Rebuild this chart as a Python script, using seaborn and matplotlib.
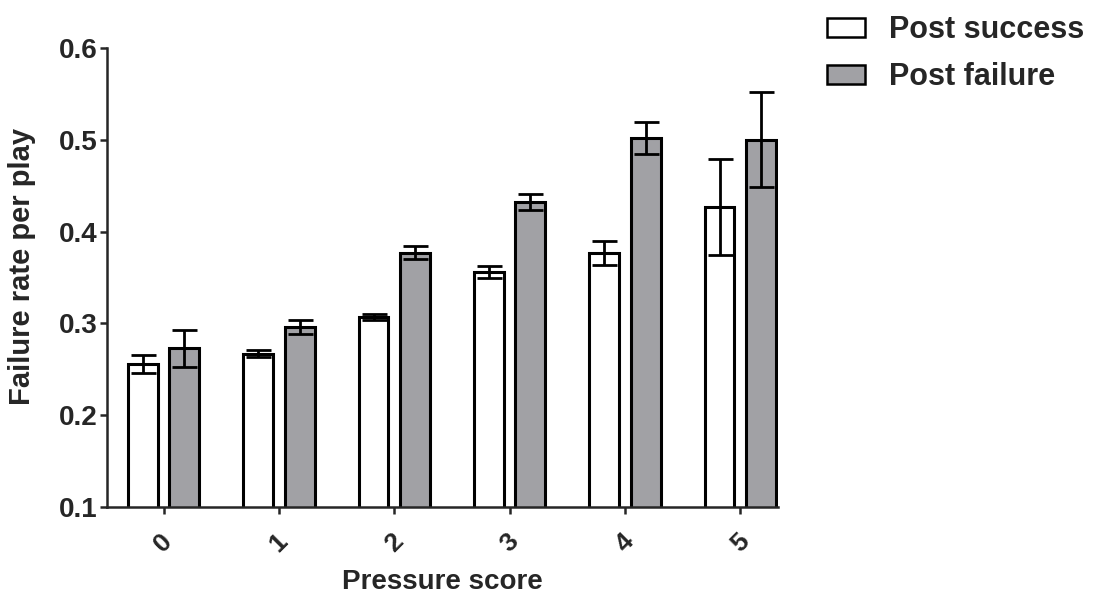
import pandas as pd
import matplotlib
matplotlib.use('Agg')
import matplotlib.pyplot as plt
import seaborn as sns

# Data
pressure = ['0', '1', '2', '3', '4', '5']
post_success = [0.256, 0.267, 0.307, 0.356, 0.377, 0.427]
post_success_err = [0.010, 0.004, 0.003, 0.007, 0.013, 0.052]
post_failure = [0.273, 0.296, 0.377, 0.432, 0.502, 0.500]
post_failure_err = [0.020, 0.008, 0.007, 0.009, 0.017, 0.052]
groups = ['Post success', 'Post failure']

df = pd.DataFrame({
    'Pressure score': pressure * 2,
    'group': [groups[0]] * 6 + [groups[1]] * 6,
    'rate': post_success + post_failure,
    'err': post_success_err + post_failure_err,
})

sns.set_style('ticks')
plt.rcParams['font.family'] = ['Liberation Sans', 'DejaVu Sans']
plt.rcParams['font.weight'] = 'bold'

fig = plt.figure(figsize=(11.04, 5.99), dpi=100)
ax = fig.add_axes([0.097, 0.1536, 0.608, 0.7664])

sns.barplot(
    data=df, x='Pressure score', y='rate', hue='group',
    hue_order=groups, order=pressure,
    palette={'Post success': 'white', 'Post failure': '#a1a1a5'},
    edgecolor='black', linewidth=2.2, width=0.72, gap=0.28,
    errorbar=None, ax=ax, legend=False,
)

# error bars on top of each bar
for cont, g in zip(ax.containers, groups):
    sub = df[df['group'] == g]
    xs = [b.get_x() + b.get_width() / 2 for b in cont]
    ax.errorbar(xs, sub['rate'], yerr=sub['err'], fmt='none',
                ecolor='black', elinewidth=2, capsize=9, capthick=2, zorder=5)

ax.set_ylim(0.1, 0.6)
ax.set_xlim(-0.49, 5.33)
ax.set_yticks([0.1, 0.2, 0.3, 0.4, 0.5, 0.6])
ax.set_yticklabels(['0.1', '0.2', '0.3', '0.4', '0.5', '0.6'])
sns.despine(ax=ax)
for s in ['left', 'bottom']:
    ax.spines[s].set_linewidth(1.8)
ax.tick_params(axis='y', length=5, width=1.8, labelsize=20, pad=2)
ax.tick_params(axis='x', length=5, width=1.8, labelsize=19, pad=11)
plt.setp(ax.get_xticklabels(), rotation=45)
ax.set_xlabel('Pressure score', fontsize=20, fontweight='bold', labelpad=9)
ax.set_ylabel('Failure rate per play', fontsize=21, fontweight='bold')
ax.yaxis.set_label_coords(-0.106, 0.523)

handles = [plt.Rectangle((0, 0), 1, 1, facecolor='white', edgecolor='black', linewidth=1.8),
           plt.Rectangle((0, 0), 1, 1, facecolor='#a1a1a5', edgecolor='black', linewidth=1.8)]
fig.legend(handles, groups, loc='upper left', bbox_to_anchor=(0.735, 1.0),
           frameon=False, prop={'size': 22, 'weight': 'bold'}, borderaxespad=0.1,
           handlelength=1.24, handleheight=0.6, handletextpad=0.8, labelspacing=0.55)

fig.savefig('out.png', dpi=100)
